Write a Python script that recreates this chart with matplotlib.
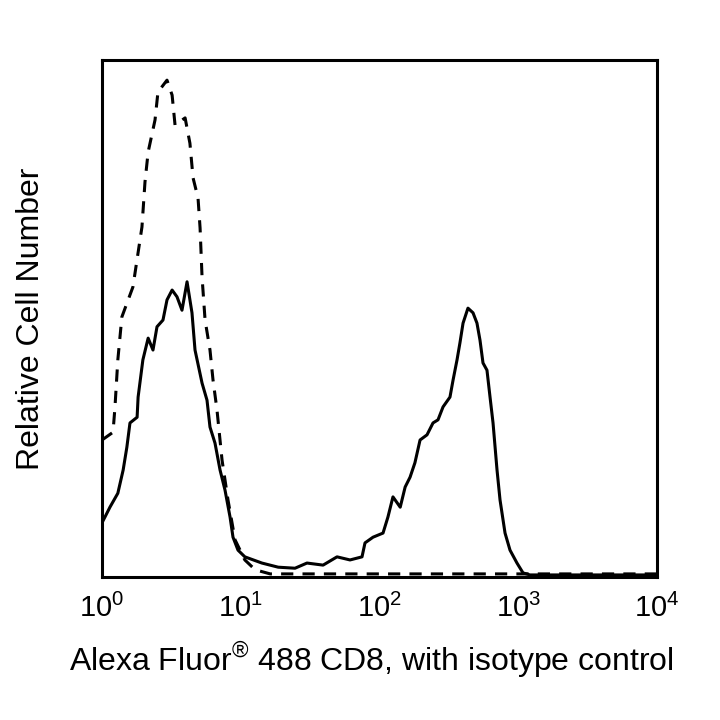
import numpy as np
import matplotlib
matplotlib.use("Agg")
import matplotlib.pyplot as plt

plt.rcParams['font.family'] = ['Liberation Sans', 'DejaVu Sans']
plt.rcParams['mathtext.fontset'] = 'custom'
plt.rcParams['mathtext.rm'] = 'Liberation Sans'

# CD8 stained sample (solid)
cd8_x = [1.0, 1.05, 1.14, 1.30, 1.42, 1.51, 1.59, 1.79, 1.82, 1.97, 2.15, 2.33, 2.49, 2.75,
         2.94, 3.20, 3.47, 3.77, 4.10, 4.45, 4.68, 5.26, 5.71, 6.00, 6.52, 7.09, 7.70,
         8.37, 8.79, 9.55, 10.7, 14.2, 18.6, 24.6, 30.0, 39.2, 49.4, 61.3, 74.8, 78.6,
         89.8, 106, 115, 125, 141, 153, 166, 180, 196, 220, 243, 264, 287, 322, 339,
         362, 380, 400, 434, 472, 504, 530, 557, 595, 626, 658, 703, 739, 803, 872,
         979, 1082, 1215, 10000]
cd8_y = [10.5, 11.6, 13.5, 16.2, 20.7, 25.1, 29.8, 30.9, 34.8, 42.0, 46.2, 43.9, 48.4, 49.7,
         53.6, 55.5, 54.2, 51.6, 57.1, 51.1, 43.9, 37.5, 34.2, 29.0, 25.9, 20.7, 16.8,
         11.6, 7.7, 5.2, 3.9, 2.7, 1.9, 1.7, 2.7, 2.3, 3.9, 3.3, 3.9, 6.6,
         7.7, 8.5, 11.6, 15.5, 13.5, 17.4, 19.3, 22.1, 26.5, 27.5, 29.8, 30.4, 32.9, 34.8, 38.1,
         42.0, 45.3, 49.1, 52.0, 51.1, 49.1, 45.8, 41.4, 40.0, 34.8, 29.8, 20.7, 14.9, 8.5, 5.2,
         2.7, 0.8, 0.4, 0.4]

# isotype control (dashed)
iso_x = [1.0, 1.20, 1.24, 1.30, 1.39, 1.67, 1.94, 2.04, 2.15, 2.41, 2.53, 2.94, 3.20, 3.36,
         3.97, 4.30, 4.53, 4.92, 5.09, 5.26, 5.53, 6.00, 6.31, 6.74, 7.33, 8.09, 9.09,
         10.7, 12.7, 16.3, 10000]
iso_y = [26.5, 28.0, 32.9, 42.0, 50.3, 56.1, 67.7, 76.4, 82.2, 88.4, 93.8, 96.1, 93.2, 87.4,
         88.8, 83.9, 77.2, 73.3, 67.5, 58.0, 49.7, 43.9, 38.1, 32.3, 22.6, 14.9, 7.2,
         3.3, 1.4, 0.6, 0.6]

fig = plt.figure(figsize=(7.2, 7.2), dpi=100)
ax = fig.add_axes([0.1417, 0.1986, 0.7708, 0.7181])

ax.plot(iso_x, iso_y, color='black', lw=2.2, dashes=(4, 3))
ax.plot(cd8_x, cd8_y, color='black', lw=2.2)

ax.set_xscale('log')
ax.set_xlim(1, 10000)
ax.set_ylim(0, 100)
ax.set_xticks([1, 10, 100, 1000, 10000])
ax.minorticks_off()
ax.tick_params(axis='x', length=0, pad=12, labelsize=21)
ax.set_yticks([])
for s in ax.spines.values():
    s.set_linewidth(2.2)

ax.set_xlabel('Alexa Fluor$^{\u00ae}$ 488 CD8, with isotype control', fontsize=23)
ax.xaxis.set_label_coords(0.485, -0.122)
ax.set_ylabel('Relative Cell Number', fontsize=23, labelpad=40)

fig.savefig('out.png', dpi=100)
